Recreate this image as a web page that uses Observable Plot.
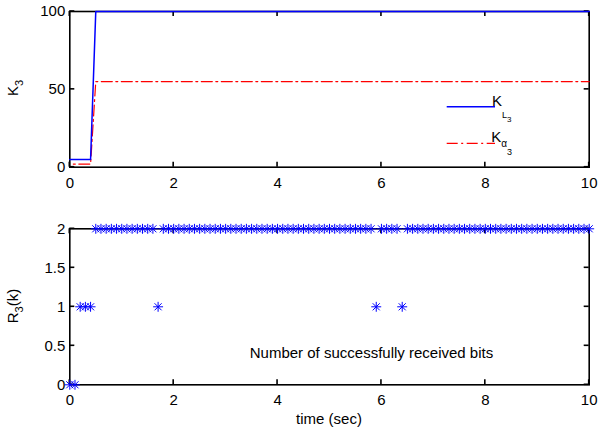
<!DOCTYPE html>
<html><head><meta charset="utf-8">
<script src="https://cdn.jsdelivr.net/npm/d3@7"></script>
<script src="https://cdn.jsdelivr.net/npm/@observablehq/plot@0.6"></script>
<style>
body{margin:0;background:#fff}
#chart{width:598px;height:432px;background:#fff}
#chart svg{display:block}
</style>
</head><body><div id="chart"></div>
<script>
// ---- data ----
const time = [0,0.1,0.2,0.3,0.4,0.5,0.6,0.7,0.8,0.9,1,1.1,1.2,1.3,1.4,1.5,1.6,1.7,1.8,1.9,
  2,2.1,2.2,2.3,2.4,2.5,2.6,2.7,2.8,2.9,3,3.1,3.2,3.3,3.4,3.5,3.6,3.7,3.8,3.9,
  4,4.1,4.2,4.3,4.4,4.5,4.6,4.7,4.8,4.9,5,5.1,5.2,5.3,5.4,5.5,5.6,5.7,5.8,5.9,
  6,6.1,6.2,6.3,6.4,6.5,6.6,6.7,6.8,6.9,7,7.1,7.2,7.3,7.4,7.5,7.6,7.7,7.8,7.9,
  8,8.1,8.2,8.3,8.4,8.5,8.6,8.7,8.8,8.9,9,9.1,9.2,9.3,9.4,9.5,9.6,9.7,9.8,9.9,10];
const r3 = [0,0,1,1,1,2,2,2,2,2,2,2,2,2,2,2,2,1,2,2,
  2,2,2,2,2,2,2,2,2,2,2,2,2,2,2,2,2,2,2,2,
  2,2,2,2,2,2,2,2,2,2,2,2,2,2,2,2,2,2,2,1,
  2,2,2,2,1,2,2,2,2,2,2,2,2,2,2,2,2,2,2,2,
  2,2,2,2,2,2,2,2,2,2,2,2,2,2,2,2,2,2,2,2,2];
const kTime = [0, 0.4, 0.5, 10];
const kL3 = [5, 5, 100, 100];
const kAlpha3 = [2, 2, 55, 55];
const xTicks = [0, 2, 4, 6, 8, 10];
const topYTicks = [0, 50, 100];
const botYTicks = [0, 0.5, 1, 1.5, 2];
const annotation = "Number of successfully received bits";

// ---- tables ----
const kRows = kTime.map((t, i) => ({t, L: kL3[i], A: kAlpha3[i]}));
const rRows = time.map((t, i) => ({t, r: r3[i]}));

const FONT = "'Liberation Sans', Arial, Helvetica, sans-serif";
const W = 598;
const fmt = d => String(d);

function labelAxes(yTicks) {
  return [
    Plot.frame({stroke: "#000", strokeWidth: 1.6}),
    Plot.axisX({ticks: xTicks, anchor: "bottom", tickSize: 0, tickPadding: 10, label: null, fill: "black", tickFormat: fmt}),
    Plot.axisY({ticks: yTicks, anchor: "left", tickSize: 0, tickPadding: 4.5, label: null, fill: "black", tickFormat: fmt})
  ];
}

const style = {fontFamily: FONT, fontSize: "15px", background: "white", color: "black"};

const topPlot = Plot.plot({
  width: W, height: 200,
  marginTop: 11, marginBottom: 33.3, marginLeft: 69.3, marginRight: 9.3,
  style,
  x: {domain: [0, 10]},
  y: {domain: [0, 100]},
  marks: [
    ...labelAxes(topYTicks),
    Plot.line(kRows, {x: "t", y: "A", stroke: "#ff0000", strokeWidth: 1.2, strokeDasharray: "11,3.5,2,3.5", strokeDashoffset: 11}),
    Plot.line(kRows, {x: "t", y: "L", stroke: "#0000ff", strokeWidth: 1.5})
  ]
});

const botPlot = Plot.plot({
  width: W, height: 232,
  marginTop: 28.3, marginBottom: 47.7, marginLeft: 69.3, marginRight: 9.3,
  style,
  x: {domain: [0, 10]},
  y: {domain: [0, 2]},
  marks: [
    ...labelAxes(botYTicks),
    Plot.dot(rRows, {x: "t", y: "r", symbol: "plus", r: 3.3, stroke: "#0000ff", strokeWidth: 1}),
    Plot.dot(rRows, {x: "t", y: "r", symbol: "times", r: 3.3, stroke: "#0000ff", strokeWidth: 1}),
    Plot.text([annotation], {text: d => d, frameAnchor: "bottom-right", dx: -96, dy: -31.3, textAnchor: "end", lineAnchor: "middle", fontSize: 15, fill: "black"})
  ]
});

const chart = document.getElementById("chart");
chart.append(topPlot, botPlot);

// ---- inward ticks on all four sides, placed with Plot's own scales ----
function ticks(svg, yDomain, yTicks) {
  const sx = svg.scale("x"), sy = svg.scale("y");
  const x0 = sx.apply(0), x1 = sx.apply(10);
  const yb = sy.apply(yDomain[0]), yt = sy.apply(yDomain[1]);
  const g = d3.select(svg).append("g")
    .attr("stroke", "#000").attr("stroke-width", 1.6).attr("fill", "none");
  xTicks.forEach(v => {
    const px = sx.apply(v);
    g.append("line").attr("x1", px).attr("x2", px).attr("y1", yb).attr("y2", yb - 5);
    g.append("line").attr("x1", px).attr("x2", px).attr("y1", yt).attr("y2", yt + 5);
  });
  yTicks.forEach(v => {
    const py = sy.apply(v);
    g.append("line").attr("x1", x0).attr("x2", x0 + 5).attr("y1", py).attr("y2", py);
    g.append("line").attr("x1", x1).attr("x2", x1 - 5).attr("y1", py).attr("y2", py);
  });
  d3.select(svg).selectAll("g[aria-label='line'], g[aria-label='dot']").raise();
}
ticks(topPlot, [0, 100], topYTicks);
ticks(botPlot, [0, 2], botYTicks);

// ---- labels with subscripts ----
function rotLabel(svg, x, y, parts) {
  const t = d3.select(svg).append("text")
    .attr("transform", `translate(${x},${y}) rotate(-90)`)
    .attr("text-anchor", "middle")
    .attr("fill", "black").attr("font-family", FONT);
  parts.forEach(p => t.append("tspan").attr("font-size", p.size).attr("dy", p.dy || 0).text(p.text));
}
rotLabel(topPlot, 18.3, 88, [{text: "K", size: 15}, {text: "3", size: 11, dy: 5}]);
rotLabel(botPlot, 18.3, 106, [{text: "R", size: 15}, {text: "3", size: 11, dy: 5}, {text: "(k)", size: 15, dy: -5}]);

d3.select(botPlot).append("text")
  .attr("x", 329).attr("y", 223.7).attr("text-anchor", "middle")
  .attr("font-family", FONT).attr("font-size", 15).attr("fill", "black")
  .text("time (sec)");

// legend
const lg = d3.select(topPlot).append("g").attr("font-family", FONT).attr("fill", "black");
lg.append("line").attr("x1", 446.7).attr("x2", 495).attr("y1", 106.7).attr("y2", 106.7)
  .attr("stroke", "#0000ff").attr("stroke-width", 1.5);
lg.append("line").attr("x1", 446.7).attr("x2", 495).attr("y1", 143.3).attr("y2", 143.3)
  .attr("stroke", "#ff0000").attr("stroke-width", 1.2).attr("stroke-dasharray", "11,3.5,2,3.5");
const t1 = lg.append("text").attr("x", 501.7).attr("y", 106);
t1.append("tspan").attr("font-size", 15).text("K");
t1.append("tspan").attr("font-size", 9).attr("dy", 11.5).text("L");
t1.append("tspan").attr("font-size", 8).attr("dy", 4).text("3");
const t2 = lg.append("text").attr("x", 501.7).attr("y", 142);
t2.append("tspan").attr("font-size", 15).text("K");
t2.append("tspan").attr("font-size", 10).attr("dy", 4.7).text("α");
t2.append("tspan").attr("font-size", 9).attr("dy", 8.3).text("3");
</script>
</body></html>
